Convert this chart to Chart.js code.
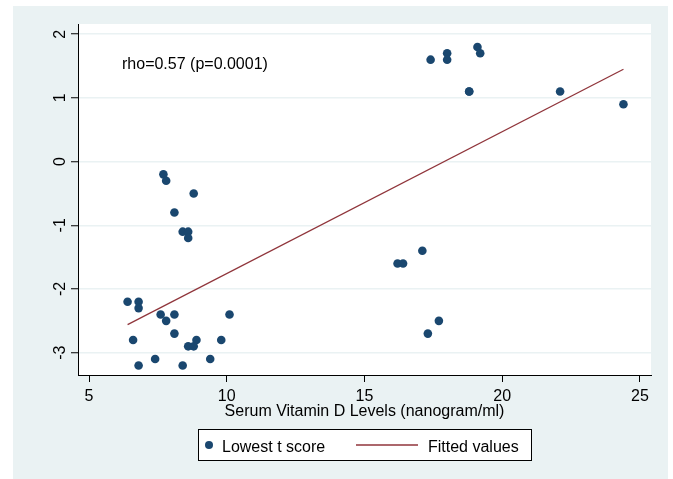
<!DOCTYPE html>
<html>
<head>
<meta charset="utf-8">
<script src="https://cdn.jsdelivr.net/npm/chart.js@4"></script>
<style>
  body { margin: 0; background: #fff; }
  #wrap { width: 673px; height: 479px; }
</style>
</head>
<body>
<div id="wrap"><canvas id="chart" width="673" height="479"></canvas></div>
<script>
// serum vitamin D (nanogram/ml) and lowest t score per patient
const vitD = [7.7, 7.8, 8.8, 8.1, 8.4, 8.6, 8.6, 6.4, 6.8, 6.8, 7.6, 8.1, 10.1, 7.8, 8.1, 6.6, 8.9, 9.8, 8.6, 8.8,
  7.4, 9.4, 6.8, 8.4, 17.4, 18.0, 18.0, 19.1, 19.2, 18.8, 18.8, 22.1, 24.4, 17.1, 16.2, 16.4, 17.7, 17.3];
const tScore = [-0.2, -0.3, -0.5, -0.8, -1.1, -1.1, -1.2, -2.2, -2.2, -2.3, -2.4, -2.4, -2.4, -2.5, -2.7, -2.8, -2.8, -2.8, -2.9, -2.9,
  -3.1, -3.1, -3.2, -3.2, 1.6, 1.7, 1.6, 1.8, 1.7, 1.1, 1.1, 1.1, 0.9, -1.4, -1.6, -1.6, -2.5, -2.7];

// fitted line end points
const fitX = [6.4, 24.4];
const fitY = [-2.56, 1.45];

const xTicks = [5, 10, 15, 20, 25];
const yTicks = [-3, -2, -1, 0, 1, 2];

const FONT = "'Liberation Sans', Arial, sans-serif";
const BG = "#eaf2f3";
const NAVY = "#1a476f";
const MAROON = "#90353b";

Chart.defaults.font.family = FONT;
Chart.defaults.font.size = 16;
Chart.defaults.color = "#000";

const stataLook = {
  id: "stataLook",
  beforeDraw(chart) {
    const ctx = chart.ctx;
    const a = chart.chartArea;
    ctx.save();
    ctx.fillStyle = "#fff";
    ctx.fillRect(0, 0, chart.width, chart.height);
    ctx.fillStyle = BG;
    ctx.fillRect(13, 6, 655, 473);
    ctx.fillStyle = "#fff";
    ctx.fillRect(a.left, a.top, a.right - a.left, a.bottom - a.top);
    ctx.restore();
  },
  afterDraw(chart) {
    const ctx = chart.ctx;
    const y = chart.scales.y;
    ctx.save();
    ctx.fillStyle = "#000";
    ctx.font = "16px " + FONT;

    // vertical y labels
    yTicks.forEach(v => {
      ctx.save();
      ctx.translate(65, y.getPixelForValue(v));
      ctx.rotate(-Math.PI / 2);
      ctx.textAlign = "center";
      ctx.textBaseline = "alphabetic";
      ctx.fillText(String(v), 0, 0);
      ctx.restore();
    });

    ctx.textAlign = "left";
    ctx.textBaseline = "alphabetic";
    ctx.fillText("rho=0.57 (p=0.0001)", 122, 68.5);

    // legend box
    ctx.fillStyle = "#fff";
    ctx.fillRect(198, 429, 334, 31);
    ctx.strokeStyle = "#000";
    ctx.lineWidth = 1;
    ctx.strokeRect(198.5, 429.5, 333, 31);
    ctx.fillStyle = NAVY;
    ctx.beginPath();
    ctx.arc(209, 445, 4, 0, Math.PI * 2);
    ctx.fill();
    ctx.strokeStyle = MAROON;
    ctx.lineWidth = 1.3;
    ctx.beginPath();
    ctx.moveTo(356, 445);
    ctx.lineTo(418, 445);
    ctx.stroke();
    ctx.fillStyle = "#000";
    ctx.fillText("Lowest t score", 222, 451.5);
    ctx.fillText("Fitted values", 428, 451.5);
    ctx.restore();
  }
};

new Chart(document.getElementById("chart"), {
  type: "scatter",
  data: {
    datasets: [
      {
        label: "Lowest t score",
        data: vitD.map((x, i) => ({ x: x, y: tScore[i] })),
        backgroundColor: NAVY,
        borderColor: NAVY,
        pointRadius: 4.3,
        borderWidth: 0,
        order: 2
      },
      {
        label: "Fitted values",
        type: "line",
        data: fitX.map((x, i) => ({ x: x, y: fitY[i] })),
        borderColor: MAROON,
        borderWidth: 1.3,
        pointRadius: 0,
        fill: false,
        order: 1
      }
    ]
  },
  options: {
    responsive: false,
    animation: false,
    layout: { padding: { left: 0, top: 24, right: 22, bottom: 0 } },
    plugins: { legend: { display: false }, tooltip: { enabled: false } },
    scales: {
      x: {
        type: "linear",
        min: 4.6,
        max: 25.4,
        afterBuildTicks: s => { s.ticks = xTicks.map(v => ({ value: v })); },
        afterFit: s => { s.height = 104; },
        ticks: { padding: 5, font: { size: 16 } },
        grid: { drawOnChartArea: false, tickLength: 7, tickColor: "#000", tickWidth: 1 },
        border: { color: "#000", width: 1 },
        title: {
          display: true,
          text: "Serum Vitamin D Levels (nanogram/ml)",
          font: { size: 16 },
          padding: { top: 0, bottom: 58 }
        }
      },
      y: {
        type: "linear",
        min: -3.35,
        max: 2.16,
        afterBuildTicks: s => { s.ticks = yTicks.map(v => ({ value: v })); },
        afterFit: s => { s.width = 78; },
        ticks: { display: false },
        grid: { color: BG, lineWidth: 1.5, tickLength: 7, tickColor: "#000", tickWidth: 1 },
        border: { color: "#000", width: 1 }
      }
    }
  },
  plugins: [stataLook]
});
</script>
</body>
</html>
